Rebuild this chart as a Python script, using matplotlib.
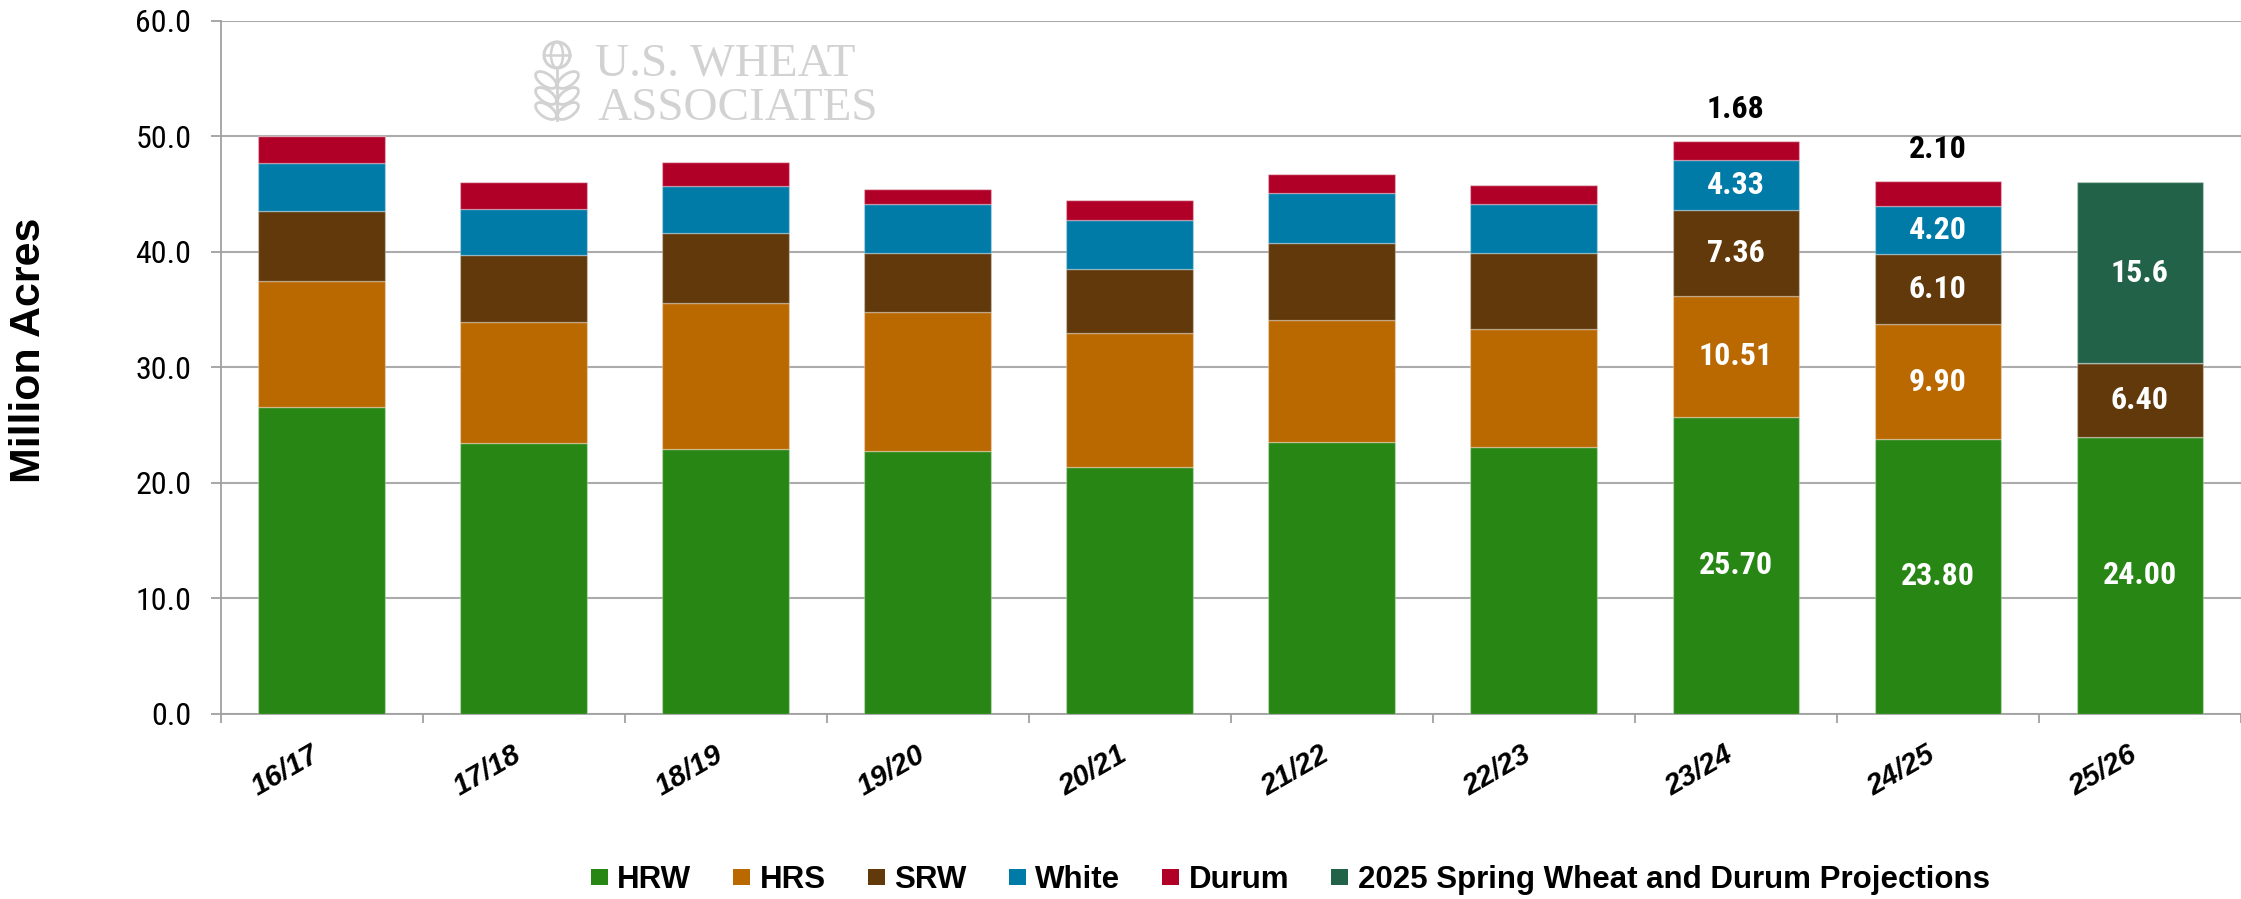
import matplotlib
matplotlib.use("Agg")
import matplotlib.pyplot as plt
import numpy as np
from matplotlib.transforms import ScaledTranslation
from matplotlib.patches import Circle, Ellipse, Patch
from matplotlib.lines import Line2D

plt.rcParams['font.family'] = ['Liberation Sans', 'DejaVu Sans']
COND = ['Roboto Condensed', 'Liberation Sans Narrow', 'DejaVu Sans']

years = ["16/17", "17/18", "18/19", "19/20", "20/21",
         "21/22", "22/23", "23/24", "24/25", "25/26"]
hrw = [26.6, 23.45, 22.9, 22.75, 21.4, 23.5, 23.1, 25.70, 23.80, 24.00]
hrs = [10.9, 10.5, 12.7, 12.0, 11.55, 10.6, 10.25, 10.51, 9.90, 0]
srw = [6.0, 5.75, 6.05, 5.15, 5.55, 6.65, 6.5, 7.36, 6.10, 6.40]
white = [4.15, 4.0, 4.05, 4.2, 4.25, 4.3, 4.25, 4.33, 4.20, 0]
durum = [2.4, 2.3, 2.05, 1.3, 1.7, 1.65, 1.65, 1.68, 2.10, 0]
proj = [0, 0, 0, 0, 0, 0, 0, 0, 0, 15.6]

series_names = ["HRW", "HRS", "SRW", "White", "Durum",
                "2025 Spring Wheat and Durum Projections"]
colors = ["#288614", "#BA6800", "#61390B", "#007BA8", "#B00028", "#216249"]
labeled_bars = [7, 8, 9]

fig = plt.figure(figsize=(22.41, 8.99), dpi=100)
ax = fig.add_axes([0.0984, 0.206, 0.9016, 0.771])

x = np.arange(len(years))
width = 0.627
bottom = np.zeros(len(years))
stack = [hrw, hrs, srw, white, durum, proj]
for k, (vals, col) in enumerate(zip(stack, colors)):
    vals = np.array(vals, dtype=float)
    ax.bar(x, vals, width, bottom=bottom, color=col,
           edgecolor=(1, 1, 1, 0.3), linewidth=1.0, zorder=3)
    for i in labeled_bars:
        if vals[i] <= 0:
            continue
        if k == 4:
            # durum value goes above the bar
            ax.annotate(f"{vals[i]:.2f}", (x[i], bottom[i] + vals[i]),
                        xytext=(0, 23), textcoords="offset points",
                        ha="center", va="center", fontsize=23,
                        fontweight="bold", color="black", family=COND)
        else:
            fmt = f"{vals[i]:.1f}" if k == 5 else f"{vals[i]:.2f}"
            ax.text(x[i], bottom[i] + vals[i] / 2, fmt, ha="center",
                    va="center", fontsize=23, fontweight="bold",
                    color="white", zorder=4, family=COND)
    bottom += vals

ax.set_xlim(-0.5, len(years) - 0.5)
ax.set_ylim(0, 60)
ax.set_yticks(np.arange(0, 61, 10))
ax.set_yticklabels([f"{v:.1f}" for v in np.arange(0, 61, 10)], family=COND)
ax.yaxis.grid(True, color="#ABABAB", linewidth=1.5, zorder=0)
ax.set_axisbelow(True)

for s in ["top", "right"]:
    ax.spines[s].set_visible(False)
for s in ["left", "bottom"]:
    ax.spines[s].set_color("#A0A0A0")
    ax.spines[s].set_linewidth(1.3)

ax.tick_params(axis="y", length=7, width=1.3, color="#A0A0A0", pad=14,
               labelsize=23)
ax.set_xticks(x)
ax.set_xticks(np.arange(-0.5, len(years), 1.0), minor=True)
ax.tick_params(axis="x", which="minor", length=6.5, width=1.3, color="#A0A0A0")
ax.tick_params(axis="x", which="major", length=0, pad=19)
ax.set_xticklabels(years, rotation=30, ha="right", va="top",
                   rotation_mode="anchor", fontsize=21, fontweight="bold",
                   fontstyle="italic")
shift = ScaledTranslation(-0.12, 0, fig.dpi_scale_trans)
for lab in ax.get_xticklabels():
    lab.set_transform(lab.get_transform() + shift)

fig.text(29 / 2241, 1 - 350 / 899, "Million Acres", rotation=90,
         ha="center", va="center", fontsize=31, fontweight="bold")

handles = [Patch(facecolor=c, edgecolor="none") for c in colors]
fig.legend(handles, series_names, loc="center", ncol=6, frameon=False,
           bbox_to_anchor=(0.5757, 0.021),
           prop={"weight": "bold", "size": 22.5},
           handlelength=0.54, handleheight=0.45, handletextpad=0.3,
           columnspacing=1.35)

# watermark logo
logo_col = "#D2D2D2"
fig.text(595 / 2241, 1 - 75 / 899, "U.S. WHEAT", family="Liberation Serif",
         fontsize=34, color=logo_col, ha="left", va="baseline")
fig.text(597 / 2241, 1 - 120 / 899, "ASSOCIATES", family="Liberation Serif",
         fontsize=34, color=logo_col, ha="left", va="baseline")
tr = fig.dpi_scale_trans
def px(xp, yp):
    return (xp / 100, (899 - yp) / 100)
fig.add_artist(Circle(px(557, 55), 0.13, transform=tr, fill=False,
                      edgecolor=logo_col, linewidth=2.2))
fig.add_artist(Ellipse(px(557, 55), 0.12, 0.26, transform=tr, fill=False,
                       edgecolor=logo_col, linewidth=1.8))
fig.add_artist(Line2D([px(544, 55)[0], px(570, 55)[0]],
                      [px(544, 55)[1], px(570, 55)[1]], transform=tr,
                      color=logo_col, linewidth=1.8))
fig.add_artist(Line2D([px(557, 68)[0], px(557, 120)[0]],
                      [px(557, 68)[1], px(557, 120)[1]], transform=tr,
                      color=logo_col, linewidth=2.0))
for yy in [80, 96, 111]:
    for side in (-1, 1):
        fig.add_artist(Ellipse(px(557 + side * 11, yy), 0.24, 0.12,
                               angle=side * 35, transform=tr, fill=False,
                               edgecolor=logo_col, linewidth=2.0))

fig.savefig("out.png", dpi=100)
